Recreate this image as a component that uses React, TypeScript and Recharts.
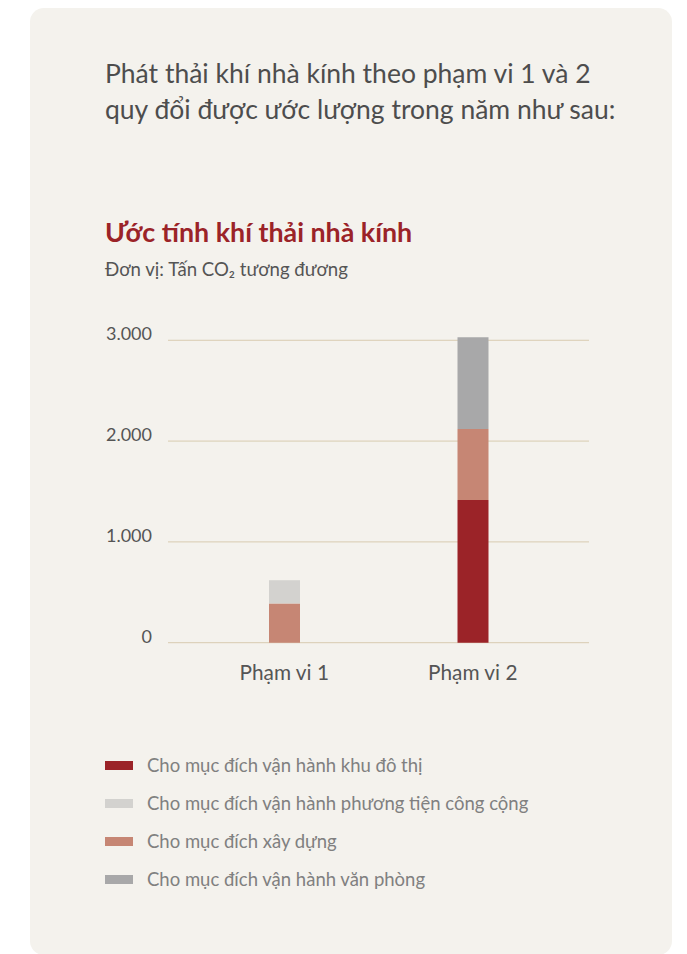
import { BarChart, Bar, XAxis, YAxis, CartesianGrid } from 'recharts'

const scopes = ['Phạm vi 1', 'Phạm vi 2']
const urbanOps = [0, 1415]
const construction = [390, 705]
const publicTransport = [230, 0]
const officeOps = [0, 910]
const yTicks = [0, 1000, 2000, 3000]

const SERIES = [
  { key: 'urban', name: 'Cho mục đích vận hành khu đô thị', color: '#9b2328' },
  { key: 'transport', name: 'Cho mục đích vận hành phương tiện công cộng', color: '#d3d2cf' },
  { key: 'construction', name: 'Cho mục đích xây dựng', color: '#c68674' },
  { key: 'office', name: 'Cho mục đích vận hành văn phòng', color: '#a8a8a9' },
]

// stacking order, bottom to top
const STACK = ['urban', 'construction', 'transport', 'office']

const data = scopes.map((scope, i) => ({
  scope,
  urban: urbanOps[i],
  construction: construction[i],
  transport: publicTransport[i],
  office: officeOps[i],
}))

const FONT = 'Lato, "Noto Sans", sans-serif'

const fmt = (v: number) => v.toLocaleString('de-DE')

function YTick({ x, y, payload }: any) {
  return (
    <text x={x} y={y} textAnchor="end" fill="#555" fontSize={18} fontFamily={FONT}>
      {fmt(payload.value)}
    </text>
  )
}

function XTick({ x, y, payload }: any) {
  return (
    <text x={x} y={y + 37} textAnchor="middle" fill="#555" fontSize={20.8} fontFamily={FONT}>
      {payload.value}
    </text>
  )
}

export default function App() {
  return (
    <div
      style={{
        position: 'relative',
        marginLeft: 22,
        width: 642,
        height: 947,
        background: '#f4f2ed',
        borderRadius: 14,
        fontFamily: FONT,
      }}
    >
      <div
        style={{
          position: 'absolute',
          left: 75,
          top: 47,
          fontSize: 26.5,
          lineHeight: '36px',
          color: '#4d4d4d',
          whiteSpace: 'nowrap',
        }}
      >
        Phát thải khí nhà kính theo phạm vi 1 và 2
        <br />
        quy đổi được ước lượng trong năm như sau:
      </div>
      <div
        style={{
          position: 'absolute',
          left: 75,
          top: 208.3,
          fontSize: 26.8,
          lineHeight: '32px',
          fontWeight: 700,
          color: '#9b2328',
          whiteSpace: 'nowrap',
        }}
      >
        Ước tính khí thải nhà kính
      </div>
      <div
        style={{
          position: 'absolute',
          left: 75,
          top: 249.8,
          fontSize: 18.6,
          lineHeight: '22px',
          color: '#555',
          whiteSpace: 'nowrap',
        }}
      >
        Đơn vị: Tấn CO₂ tương đương
      </div>

      <div style={{ position: 'absolute', left: 0, top: 292 }}>
        <BarChart
          width={642}
          height={400}
          data={data}
          margin={{ top: 30.2, right: 83, bottom: 27.3, left: 78 }}
        >
          <CartesianGrid vertical={false} stroke="#d8cbb0" syncWithTicks />
          <XAxis
            dataKey="scope"
            axisLine={false}
            tickLine={false}
            tickSize={0}
            tickMargin={0}
            padding={{ left: 22, right: 22 }}
            tick={<XTick />}
          />
          <YAxis
            width={60}
            domain={[0, 3100]}
            ticks={yTicks}
            axisLine={false}
            tickLine={false}
            tickSize={0}
            tickMargin={16}
            tick={<YTick />}
          />
          {STACK.map((key) => {
            const s = SERIES.find((d) => d.key === key)!
            return (
              <Bar
                key={key}
                dataKey={key}
                name={s.name}
                stackId="a"
                fill={s.color}
                barSize={31}
                isAnimationActive={false}
              />
            )
          })}
        </BarChart>
      </div>

      <div style={{ position: 'absolute', left: 75, top: 738 }}>
        {SERIES.map((s) => (
          <div key={s.key} style={{ display: 'flex', alignItems: 'center', height: 38 }}>
            <span style={{ width: 28, height: 9, background: s.color, marginRight: 14 }} />
            <span style={{ fontSize: 18.5, color: '#808080', whiteSpace: 'nowrap' }}>{s.name}</span>
          </div>
        ))}
      </div>
    </div>
  )
}
